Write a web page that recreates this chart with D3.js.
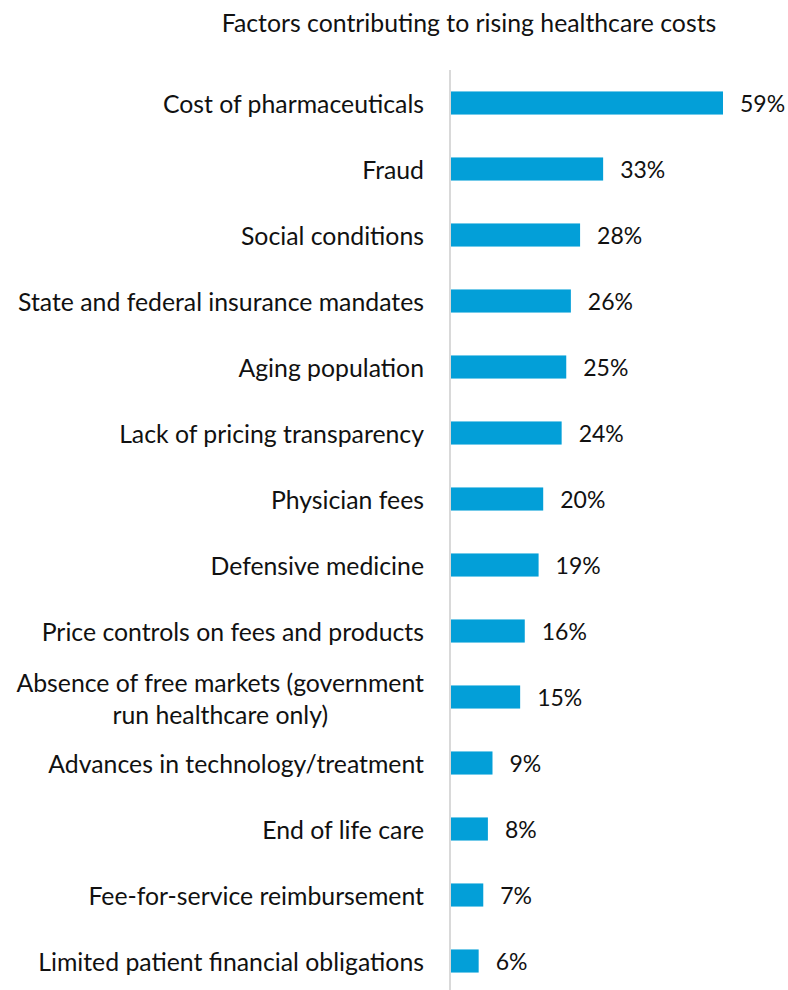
<!DOCTYPE html>
<html>
<head>
<meta charset="utf-8">
<script src="https://cdn.jsdelivr.net/npm/d3@7"></script>
<style>
  html, body { margin: 0; padding: 0; background: #fff; }
  svg text { font-family: Lato, "Open Sans", sans-serif; fill: #111; }
</style>
</head>
<body>
<svg id="chart" width="788" height="990"></svg>
<script>
const title = "Factors contributing to rising healthcare costs";
const categories = [
  ["Cost of pharmaceuticals"],
  ["Fraud"],
  ["Social conditions"],
  ["State and federal insurance mandates"],
  ["Aging population"],
  ["Lack of pricing transparency"],
  ["Physician fees"],
  ["Defensive medicine"],
  ["Price controls on fees and products"],
  ["Absence of free markets (government", "run healthcare only)"],
  ["Advances in technology/treatment"],
  ["End of life care"],
  ["Fee-for-service reimbursement"],
  ["Limited patient financial obligations"]
];
const values = [59, 33, 28, 26, 25, 24, 20, 19, 16, 15, 9, 8, 7, 6];

const svg = d3.select("#chart");
const x0 = 451;
const x = d3.scaleLinear().domain([0, 59]).range([x0, 723]);
const y = d3.scaleBand()
  .domain(d3.range(categories.length))
  .range([70, 994])
  .paddingInner(0.65)
  .paddingOuter(0.325);

svg.append("text")
  .attr("x", 469).attr("y", 22)
  .attr("text-anchor", "middle")
  .attr("dominant-baseline", "central")
  .style("font-size", "24.8px")
  .text(title);

// bars
svg.append("g").selectAll("rect")
  .data(values)
  .join("rect")
  .attr("x", x(0))
  .attr("y", (d, i) => y(i))
  .attr("width", d => x(d) - x(0))
  .attr("height", y.bandwidth())
  .attr("fill", "#039fd8");

// category axis line
svg.append("line")
  .attr("x1", x(0) - 1).attr("x2", x(0) - 1)
  .attr("y1", 70).attr("y2", 990)
  .attr("stroke", "#d9d9d9")
  .attr("stroke-width", 2);

// value labels
svg.append("g").selectAll("text")
  .data(values)
  .join("text")
  .attr("x", d => x(d) + 17)
  .attr("y", (d, i) => y(i) + y.bandwidth() / 2)
  .attr("dominant-baseline", "central")
  .style("font-size", "23px")
  .text(d => d + "%");

// category labels (wrapped lines centred on the widest line)
const labelRight = 424;
const lineH = 32;
const lab = svg.append("g");
categories.forEach((lines, i) => {
  const cy = y(i) + y.bandwidth() / 2 + (lines.length > 1 ? 1 : 0);
  const g = lab.append("g");
  const ts = lines.map((s, k) => g.append("text")
    .attr("y", cy + (k - (lines.length - 1) / 2) * lineH)
    .attr("dominant-baseline", "central")
    .style("font-size", "24.8px")
    .text(s));
  if (lines.length === 1) {
    ts[0].attr("x", labelRight).attr("text-anchor", "end");
  } else {
    const w = d3.max(ts, t => t.node().getComputedTextLength());
    ts.forEach(t => t.attr("x", labelRight - w / 2).attr("text-anchor", "middle"));
  }
});
</script>
</body>
</html>
